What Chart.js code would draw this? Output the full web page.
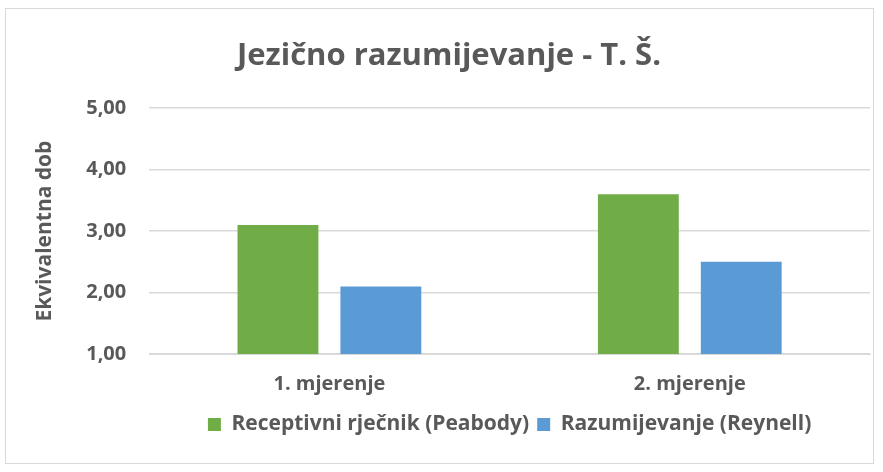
<!DOCTYPE html>
<html>
<head>
<meta charset="utf-8">
<script src="https://cdn.jsdelivr.net/npm/chart.js@4/dist/chart.umd.min.js"></script>
<style>
  html, body { margin: 0; padding: 0; background: #fff; }
  #frame {
    position: absolute; left: 5px; top: 8px; width: 869px; height: 456px;
    border: 1px solid #d9d9d9; box-sizing: border-box;
  }
  #wrap { position: absolute; left: 0; top: 0; width: 883px; height: 472px; }
</style>
</head>
<body>
<div id="frame"></div>
<div id="wrap"><canvas id="chart"></canvas></div>
<script>
(function () {
    'use strict';

    // ── Data ───────────────────────────────────────────────────────────────
    const categories = ['1. mjerenje', '2. mjerenje'];
    const peabody    = [3.1, 3.6];
    const reynell    = [2.1, 2.5];
    const seriesNames = ['Receptivni rječnik (Peabody)', 'Razumijevanje (Reynell)'];

    // ── Theme ──────────────────────────────────────────────────────────────
    const TEXT  = '#595959';
    const GRID  = '#d9d9d9';
    const GREEN = '#70ad47';
    const BLUE  = '#5b9bd5';
    const FONT  = "'Open Sans', Lato, sans-serif";

    Chart.defaults.font.family = FONT;
    Chart.defaults.color = TEXT;

    // Legend is centred under the plot area, not the whole canvas
    const centreLegend = {
        id: 'centreLegend',
        afterLayout(chart) {
            const lg = chart.legend, ca = chart.chartArea;
            if (!lg) return;
            const shift = (ca.left + ca.right) / 2 - (lg.left + lg.right) / 2;
            lg.left += shift;
            lg.right += shift;
        }
    };

    const el = document.getElementById('chart');
    el.width = 883; el.height = 472;

    new Chart(el, {
        type: 'bar',
        data: {
            labels: categories,
            datasets: [
                { label: seriesNames[0], data: peabody, backgroundColor: GREEN },
                { label: seriesNames[1], data: reynell, backgroundColor: BLUE }
            ]
        },
        plugins: [centreLegend],
        options: {
            responsive: false,
            animation: false,
            categoryPercentage: 0.571,
            barPercentage: 0.786,
            layout: { padding: { left: 28, right: 13, top: 22, bottom: 27 } },
            plugins: {
                title: {
                    display: true,
                    text: 'Jezično razumijevanje - T. Š.',
                    color: TEXT,
                    font: { size: 31, weight: 'bold' },
                    padding: { top: 16, bottom: 33 }
                },
                legend: {
                    position: 'bottom',
                    labels: {
                        color: TEXT,
                        boxWidth: 13,
                        boxHeight: 13,
                        padding: 8,
                        font: { size: 21, weight: 'bold' }
                    }
                },
                tooltip: { enabled: false }
            },
            scales: {
                x: {
                    grid: { display: false },
                    border: { color: GRID },
                    ticks: { color: TEXT, font: { size: 20, weight: 'bold', lineHeight: 1.0 }, padding: 12 }
                },
                y: {
                    min: 1, max: 5,
                    grid: { color: GRID, lineWidth: 1.5, drawTicks: false },
                    border: { display: false },
                    ticks: {
                        stepSize: 1,
                        color: TEXT,
                        padding: 23,
                        font: { size: 20, weight: 'bold' },
                        callback: v => v.toFixed(2).replace('.', ',')
                    },
                    title: {
                        display: true,
                        text: 'Ekvivalentna dob',
                        color: TEXT,
                        font: { size: 21, weight: 'bold' },
                        padding: { bottom: 6 }
                    }
                }
            }
        }
    });
})();
</script>
</body>
</html>
